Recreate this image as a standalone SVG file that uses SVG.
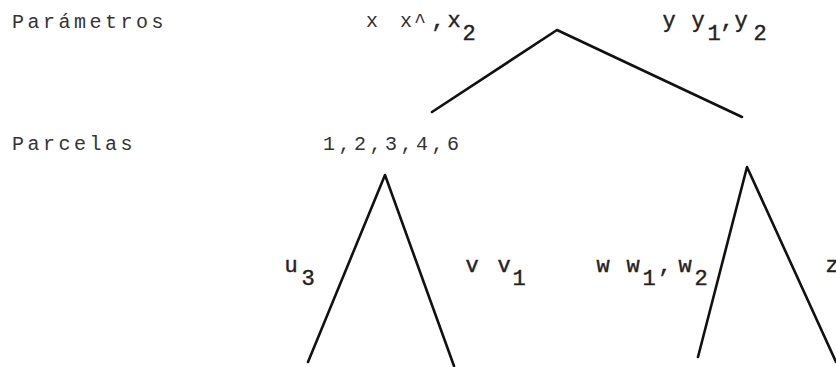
<svg xmlns="http://www.w3.org/2000/svg" width="836" height="367" viewBox="0 0 836 367">
<style>
.sm{font-family:"Liberation Mono","DejaVu Sans Mono",monospace;font-size:20px;fill:#333;letter-spacing:3.5px}
.c{font-family:"Liberation Mono","DejaVu Sans Mono",monospace;font-size:20px;fill:#333;text-anchor:middle}
.b{font-family:"Liberation Mono","DejaVu Sans Mono",monospace;font-size:22px;fill:#222;text-anchor:middle;stroke:#222;stroke-width:0.4}
.ln{stroke:#111;stroke-width:2.6;fill:none;stroke-linecap:round;stroke-linejoin:round}
</style>
<rect width="836" height="367" fill="#fff"/>
<g id="label-parametros"><text class="sm" x="12" y="28">Parámetros</text></g>
<g id="label-parcelas"><text class="sm" x="12" y="150">Parcelas</text></g>
<g id="node-x">
<text class="c" x="372" y="27">x</text>
<text class="c" x="406" y="27">x</text>
<text class="c" x="420" y="27">^</text>
<text class="b" x="438" y="27">,</text>
<text class="b" x="454" y="27">x</text>
<text class="b" x="469" y="40">2</text>
</g>
<g id="node-y">
<text class="b" x="669" y="27">y</text>
<text class="b" x="698" y="27">y</text>
<text class="b" x="714" y="40">1</text>
<text class="b" x="727" y="27">,</text>
<text class="b" x="741" y="27">y</text>
<text class="b" x="760" y="40">2</text>
</g>
<g id="node-parcelas"><text class="sm" x="323" y="150">1,2,3,4,6</text></g>
<g id="node-u">
<text class="b" x="291" y="272">u</text>
<text class="b" x="308" y="285">3</text>
</g>
<g id="node-v">
<text class="b" x="472" y="272">v</text>
<text class="b" x="504" y="272">v</text>
<text class="b" x="519" y="285">1</text>
</g>
<g id="node-w">
<text class="b" x="603" y="272">w</text>
<text class="b" x="633" y="272">w</text>
<text class="b" x="649" y="285">1</text>
<text class="b" x="665" y="272">,</text>
<text class="b" x="685" y="272">w</text>
<text class="b" x="701" y="285">2</text>
</g>
<g id="node-z"><text class="b" x="832" y="272">z</text></g>
<g id="connectors">
<polyline class="ln" points="432,112 557,30 742,117"/>
<polyline class="ln" points="308,362 385,175 454,366"/>
<polyline class="ln" points="698,357 747,167 836,362"/>
</g>
</svg>
